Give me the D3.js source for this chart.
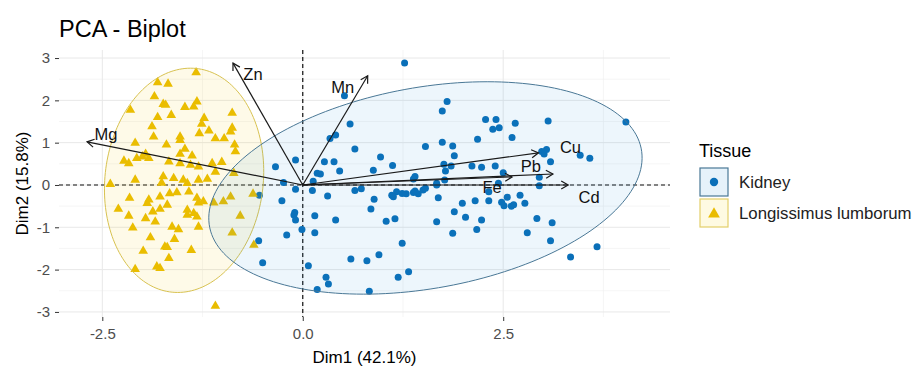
<!DOCTYPE html>
<html>
<head>
<meta charset="utf-8">
<script src="https://cdn.jsdelivr.net/npm/d3@7"></script>
<style>
  body { margin: 0; background: #fff; }
  text { font-family: "Liberation Sans", Arial, sans-serif; }
</style>
</head>
<body>
<div id="chart"></div>
<script>
// Individuals (Dim1, Dim2) per tissue
const kidney = [
  [1.27, 2.88], [0.52, 2.11], [1.74, 1.75], [1.80, 1.97], [0.59, 1.44], [0.41, 1.18],
  [0.34, 1.10], [0.65, 0.85], [1.53, 0.91], [1.74, 1.01], [-0.09, 0.59], [-0.34, 0.43],
  [0.27, 0.55], [0.39, 0.55], [0.97, 0.66], [1.12, 0.46], [0.88, 0.35], [0.46, 0.33],
  [0.18, 0.28], [0.22, 0.26], [1.40, 0.20], [1.38, 0.14], [1.76, 0.49], [1.78, 0.33],
  [-0.24, 0.06], [0.13, 0.09], [1.67, 0.04], [1.77, 0.12], [2.28, 1.55], [2.41, 1.55],
  [2.37, 1.32], [2.45, 1.35], [2.65, 1.46], [3.06, 1.51], [4.03, 1.49], [2.18, 1.08],
  [2.61, 1.12], [1.87, 0.92], [1.89, 0.69], [3.04, 0.84], [2.98, 0.79], [3.01, 0.73],
  [3.46, 0.70], [3.58, 0.63], [3.09, 0.55], [1.85, 0.45], [2.11, 0.45], [2.23, 0.42],
  [2.40, 0.45], [2.50, 0.29], [2.95, 0.18], [2.95, -0.02], [2.32, -0.16], [0.12, -0.13],
  [0.31, -0.26], [0.65, -0.13], [0.73, -0.09], [1.11, -0.24], [1.17, -0.16], [1.24, -0.20],
  [1.29, -0.21], [1.38, -0.18], [1.44, -0.21], [1.50, -0.12], [1.53, -0.08], [1.40, -0.14],
  [2.55, -0.29], [2.71, -0.24], [2.48, -0.41], [2.51, -0.49], [2.60, -0.50], [2.77, -0.43],
  [1.99, -0.43], [2.15, -0.37], [2.32, -0.37], [2.63, -0.47], [0.89, -0.34], [0.85, -0.57],
  [1.89, -0.63], [2.03, -0.76], [2.23, -0.83], [2.92, -0.79], [3.11, -0.89], [0.15, -0.73],
  [0.41, -0.83], [1.04, -0.86], [1.15, -0.80], [1.67, -0.87], [2.17, -1.05], [1.87, -1.14],
  [2.80, -1.13], [0.15, -1.13], [-0.01, -1.05], [-0.09, -0.10], [-0.26, -0.37], [-0.10, -0.65],
  [-0.11, -0.71], [-0.09, -0.83], [1.69, -0.30], [-0.54, -0.24], [-0.20, -1.18], [-0.55, -1.32],
  [1.24, -1.38], [0.60, -1.75], [0.80, -1.79], [0.95, -1.65], [-0.50, -1.84], [0.07, -1.91],
  [0.29, -2.18], [0.32, -2.34], [0.18, -2.47], [0.83, -2.51], [1.19, -2.18], [1.32, -2.05],
  [3.09, -1.32], [3.34, -1.70], [3.67, -1.46], [1.67, 0.00], [2.44, 0.04], [1.13, -0.28]
];
const longissimus = [
  [-1.33, 2.66], [-1.81, 2.42], [-1.68, 2.39], [-1.85, 2.09], [-1.74, 1.91], [-1.71, 1.89],
  [-1.32, 1.97], [-1.36, 1.85], [-1.47, 1.84], [-2.15, 1.77], [-1.64, 1.65], [-0.88, 1.70],
  [-1.81, 1.60], [-1.23, 1.58], [-1.26, 1.44], [-1.88, 1.38], [-0.88, 1.35], [-1.17, 1.28],
  [-1.29, 1.22], [-0.90, 1.26], [-1.86, 1.14], [-1.53, 1.14], [-0.98, 1.10], [-1.09, 1.10],
  [-1.53, 1.06], [-2.09, 0.99], [-1.70, 0.95], [-0.85, 0.95], [-1.47, 0.85], [-0.84, 0.79],
  [-1.96, 0.73], [-2.00, 0.67], [-1.92, 0.63], [-2.07, 0.63], [-1.53, 0.73], [-1.38, 0.69],
  [-2.23, 0.57], [-2.17, 0.51], [-1.67, 0.55], [-1.53, 0.51], [-1.40, 0.47], [-1.30, 0.43],
  [-1.13, 0.51], [-1.01, 0.54], [-0.86, 0.28], [-1.09, 0.31], [-1.74, 0.20], [-1.61, 0.16],
  [-1.49, 0.12], [-1.44, 0.04], [-1.19, 0.14], [-2.09, 0.12], [-2.40, 0.02], [-1.30, 0.12],
  [-1.76, 0.05], [-2.16, -0.31], [-1.92, -0.35], [-1.94, -0.43], [-1.78, -0.28], [-1.66, -0.20],
  [-1.57, -0.18], [-1.42, -0.16], [-1.32, -0.31], [-1.30, -0.42], [-1.24, -0.39], [-1.11, -0.42],
  [-0.99, -0.39], [-0.90, -0.28], [-0.62, -0.21], [-2.30, -0.57], [-1.69, -0.47], [-1.78, -0.57],
  [-1.87, -0.63], [-2.17, -0.73], [-1.96, -0.79], [-1.84, -0.87], [-1.44, -0.59], [-1.44, -0.71],
  [-1.36, -0.67], [-1.32, -0.75], [-0.78, -0.73], [-2.12, -1.01], [-1.63, -0.99], [-1.55, -1.05],
  [-1.30, -0.99], [-0.88, -1.13], [-1.90, -1.24], [-1.60, -1.28], [-1.72, -1.46], [-1.69, -1.47],
  [-1.99, -1.56], [-1.39, -1.54], [-1.67, -1.73], [-1.82, -1.93], [-1.78, -1.97], [-2.09, -1.99],
  [-1.09, -2.86], [-0.61, -1.42]
];

// Variables (loadings arrows)
const varNames = ["Mg", "Zn", "Mn", "Cu", "Pb", "Fe", "Cd"];
const varX = [-2.69, -0.87, 0.81, 2.94, 3.12, 2.61, 3.31];
const varY = [1.02, 2.88, 2.58, 0.76, 0.26, 0.19, 0.00];

// Confidence ellipses: centre and two conjugate semi-diameters (data units)
const ellipseCentre = { Kidney: [1.53, -0.07], Longissimus: [-1.48, 0.11] };
const ellipseU = { Kidney: [2.59, 0], Longissimus: [0.99, 0] };
const ellipseV = { Kidney: [0.77, 2.51], Longissimus: [0.08, 2.65] };

const xTicks = [-2.5, 0, 2.5];
const xMinor = [-1.25, 1.25, 3.75];
const yTicks = [-3, -2, -1, 0, 1, 2, 3];
const yMinor = [-2.5, -1.5, -0.5, 0.5, 1.5, 2.5];

const groups = ["Kidney", "Longissimus lumborum"];

const width = 913, height = 370;
const panel = { left: 59, right: 670, top: 50, bottom: 317 };
const blue = "#0a6fb8", yellow = "#e9bc00";

// label placement relative to arrow tip (px)
const labelOffset = {
  Mg: [19, -8], Zn: [20, 11], Mn: [-25, 11], Cu: [32, -6],
  Pb: [-22, -8], Fe: [-20, 10], Cd: [21, 12]
};

const svg = d3.select('#chart')
  .append('svg')
    .attr('width', width)
    .attr('height', height);

const x = d3.scaleLinear().domain([-3.04, 4.58]).range([panel.left, panel.right]);
const y = d3.scaleLinear().domain([-3.12, 3.19]).range([panel.bottom, panel.top]);

// Grid
const grid = svg.append('g');
grid.selectAll('.xminor').data(xMinor).join('line')
  .attr('x1', d => x(d)).attr('x2', d => x(d))
  .attr('y1', panel.top).attr('y2', panel.bottom)
  .attr('stroke', '#f0f0f0').attr('stroke-width', 0.6);
grid.selectAll('.yminor').data(yMinor).join('line')
  .attr('y1', d => y(d)).attr('y2', d => y(d))
  .attr('x1', panel.left).attr('x2', panel.right)
  .attr('stroke', '#f0f0f0').attr('stroke-width', 0.6);
grid.selectAll('.xmajor').data(xTicks).join('line')
  .attr('x1', d => x(d)).attr('x2', d => x(d))
  .attr('y1', panel.top).attr('y2', panel.bottom)
  .attr('stroke', '#e8e8e8').attr('stroke-width', 1);
grid.selectAll('.ymajor').data(yTicks).join('line')
  .attr('y1', d => y(d)).attr('y2', d => y(d))
  .attr('x1', panel.left).attr('x2', panel.right)
  .attr('stroke', '#e8e8e8').attr('stroke-width', 1);

// Axes
const xAxis = svg.append('g')
  .attr('transform', 'translate(0,' + panel.bottom + ')')
  .call(d3.axisBottom(x).tickValues(xTicks).tickSize(4).tickPadding(7).tickFormat(d => d.toFixed(1)));
const yAxis = svg.append('g')
  .attr('transform', 'translate(' + panel.left + ',0)')
  .call(d3.axisLeft(y).tickValues(yTicks).tickSize(4).tickPadding(5).tickFormat(d => String(d)));
[xAxis, yAxis].forEach(a => {
  a.select('.domain').remove();
  a.selectAll('line').attr('stroke', '#333');
  a.selectAll('text').attr('fill', '#4d4d4d').style('font-size', '15px')
    .style('font-family', '"Liberation Sans", Arial, sans-serif');
});

// Dashed zero lines
svg.append('line')
  .attr('x1', panel.left).attr('x2', panel.right)
  .attr('y1', y(0)).attr('y2', y(0))
  .attr('stroke', '#111').attr('stroke-width', 1.2).attr('stroke-dasharray', '4,3');
svg.append('line')
  .attr('x1', x(0)).attr('x2', x(0))
  .attr('y1', panel.top).attr('y2', panel.bottom)
  .attr('stroke', '#111').attr('stroke-width', 1.2).attr('stroke-dasharray', '4,3');

// Points
svg.append('g').selectAll('circle').data(kidney).join('circle')
  .attr('cx', d => x(d[0])).attr('cy', d => y(d[1]))
  .attr('r', 3.5).attr('fill', blue);
const tri = d3.symbol().type(d3.symbolTriangle).size(40);
svg.append('g').selectAll('path').data(longissimus).join('path')
  .attr('transform', d => 'translate(' + x(d[0]) + ',' + y(d[1]) + ')')
  .attr('d', tri).attr('fill', yellow);

// Ellipses (drawn over the points, translucent)
function ellipsePath(key) {
  const c = ellipseCentre[key], u = ellipseU[key], v = ellipseV[key];
  const pts = d3.range(0, 2 * Math.PI, Math.PI / 90).map(t => [
    x(c[0] + u[0] * Math.cos(t) + v[0] * Math.sin(t)),
    y(c[1] + u[1] * Math.cos(t) + v[1] * Math.sin(t))
  ]);
  return d3.line().curve(d3.curveLinearClosed)(pts);
}
svg.append('path')
  .attr('d', ellipsePath('Longissimus'))
  .attr('fill', '#f5cc00').attr('fill-opacity', 0.09)
  .attr('stroke', '#d8c250').attr('stroke-width', 1);
svg.append('path')
  .attr('d', ellipsePath('Kidney'))
  .attr('fill', '#1c8ad6').attr('fill-opacity', 0.08)
  .attr('stroke', '#4a7896').attr('stroke-width', 1);

// Variable arrows
const arrows = svg.append('g');
varNames.forEach((name, i) => {
  const x0 = x(0), y0 = y(0), x1 = x(varX[i]), y1 = y(varY[i]);
  const ang = Math.atan2(y1 - y0, x1 - x0);
  const hl = 8, ha = Math.PI / 6;
  arrows.append('line')
    .attr('x1', x0).attr('y1', y0).attr('x2', x1).attr('y2', y1)
    .attr('stroke', '#1a1a1a').attr('stroke-width', 1.2);
  arrows.append('path')
    .attr('d', d3.line()([
      [x1 - hl * Math.cos(ang - ha), y1 - hl * Math.sin(ang - ha)],
      [x1, y1],
      [x1 - hl * Math.cos(ang + ha), y1 - hl * Math.sin(ang + ha)]
    ]))
    .attr('fill', 'none').attr('stroke', '#1a1a1a').attr('stroke-width', 1.2);
  arrows.append('text')
    .attr('x', x1 + labelOffset[name][0]).attr('y', y1 + labelOffset[name][1])
    .attr('text-anchor', 'middle').attr('dominant-baseline', 'central')
    .style('font-size', '16.5px').attr('fill', '#111')
    .text(name);
});

// Titles
svg.append('text').attr('x', panel.left).attr('y', 37)
  .style('font-size', '23.5px').attr('fill', '#000').text('PCA - Biplot');
svg.append('text').attr('x', (panel.left + panel.right) / 2).attr('y', 363)
  .attr('text-anchor', 'middle').style('font-size', '17px').attr('fill', '#000')
  .text('Dim1 (42.1%)');
svg.append('text')
  .attr('transform', 'translate(28,' + ((panel.top + panel.bottom) / 2) + ') rotate(-90)')
  .attr('text-anchor', 'middle').style('font-size', '17px').attr('fill', '#000')
  .text('Dim2 (15.8%)');

// Legend
const legend = svg.append('g').attr('transform', 'translate(699,0)');
legend.append('text').attr('x', 0).attr('y', 157).style('font-size', '18px').text('Tissue');
const keyFill = ['#e6f2fa', '#fefae2'], keyStroke = ['#4a7896', '#e3cf6a'];
groups.forEach((g, i) => {
  const ky = 168 + i * 31;
  legend.append('rect').attr('x', 1).attr('y', ky).attr('width', 28).attr('height', 28)
    .attr('fill', keyFill[i]).attr('stroke', keyStroke[i]).attr('stroke-width', 1.2);
  if (i === 0) {
    legend.append('circle').attr('cx', 15).attr('cy', ky + 14).attr('r', 4.2).attr('fill', blue);
  } else {
    legend.append('path').attr('transform', 'translate(15,' + (ky + 15) + ')')
      .attr('d', d3.symbol().type(d3.symbolTriangle).size(60)).attr('fill', yellow);
  }
  legend.append('text').attr('x', 40).attr('y', ky + 14).attr('dominant-baseline', 'central')
    .style('font-size', '16.8px').attr('fill', '#222').text(g);
});
</script>
</body>
</html>
